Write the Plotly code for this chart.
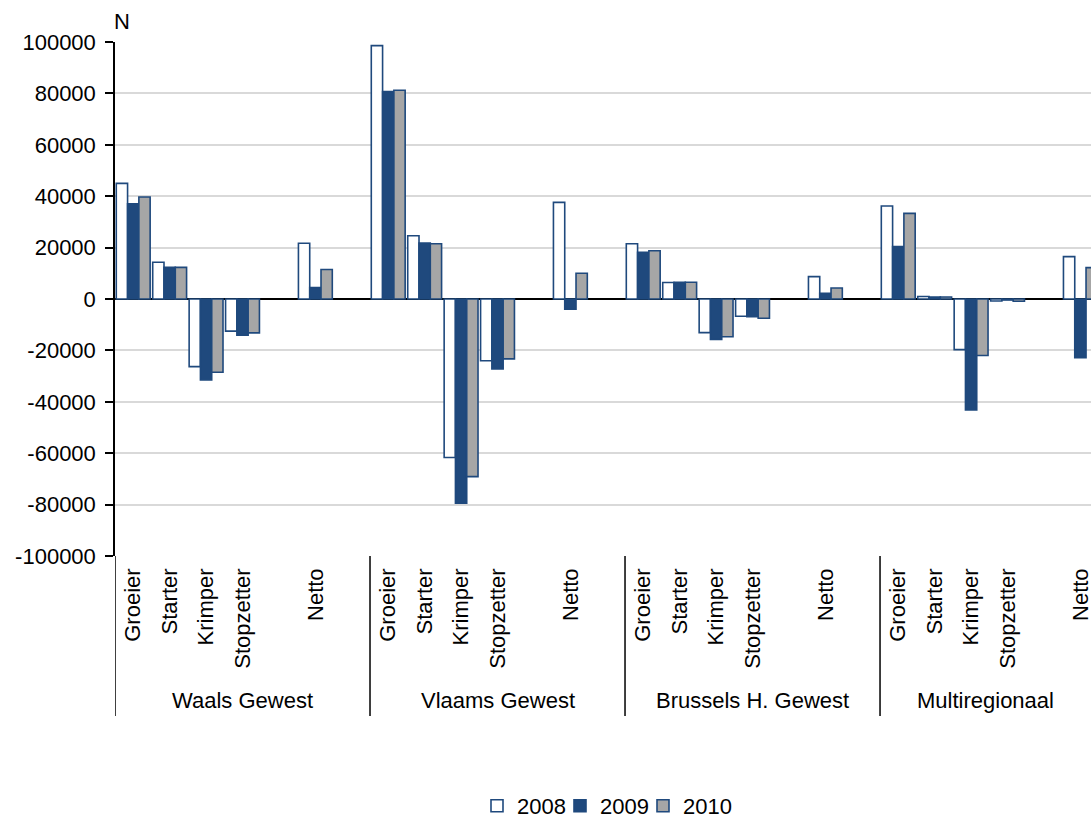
import plotly.graph_objects as go

regions = ["Waals Gewest", "Vlaams Gewest", "Brussels H. Gewest", "Multiregionaal"]
categories = ["Groeier", "Starter", "Krimper", "Stopzetter", "Netto"]
slot_layout = ["Groeier", "Starter", "Krimper", "Stopzetter", "", "Netto", ""]
years = ["2008", "2009", "2010"]

# values per region (in category order Groeier, Starter, Krimper, Stopzetter, Netto)
v2008 = [45000, 14300, -26300, -12500, 21700,
         98600, 24600, -61700, -24000, 37600,
         21500, 6400, -13100, -6700, 8700,
         36200, 1000, -19700, -800, 16500]
v2009 = [37000, 12300, -31500, -14100, 4500,
         80700, 21800, -79500, -27200, -4000,
         18200, 6500, -15700, -6900, 2200,
         20400, 800, -43200, -400, -22800]
v2010 = [39700, 12300, -28500, -13200, 11500,
         81200, 21500, -69100, -23300, 10000,
         18800, 6500, -14700, -7500, 4300,
         33300, 800, -22000, -900, 12200]

y_ticks = [-100000, -80000, -60000, -40000, -20000, 0, 20000, 40000, 60000, 80000, 100000]
y_ticktext = [str(v) for v in y_ticks]

W, H = 1091, 816
n_slots = len(slot_layout)
xpos = []
for r in range(len(regions)):
    for c in categories:
        xpos.append(r * n_slots + slot_layout.index(c))

navy = "#1F497D"
styles = {
    "2008": dict(color="#FFFFFF", line=dict(color=navy, width=1.6)),
    "2009": dict(color=navy, line=dict(color=navy, width=1.6)),
    "2010": dict(color="#A6A6A6", line=dict(color=navy, width=1.6)),
}
legend_ids = ["legend", "legend2", "legend3"]
legend_left_px = [477, 560, 643]

fig = go.Figure()
for y, vals, lid in zip(years, [v2008, v2009, v2010], legend_ids):
    fig.add_trace(go.Bar(x=xpos, y=vals, name=y, marker=styles[y], legend=lid))

tickvals = xpos
ticktext = [c for _ in regions for c in categories]

font = "Liberation Sans, Arial, sans-serif"
x_end = 976 / 36.43 - 0.5

legend_common = dict(orientation="h", xref="container", yref="container", xanchor="left",
                     y=1 - 806 / H, yanchor="middle", font=dict(size=22), itemwidth=30,
                     bgcolor="rgba(0,0,0,0)", borderwidth=0)

fig.update_layout(
    template="none",
    width=W, height=H,
    margin=dict(l=115, r=0, t=42, b=260),
    paper_bgcolor="white", plot_bgcolor="white",
    barmode="group", bargap=0.07, bargroupgap=0.0,
    font=dict(family=font, size=22, color="#000000"),
    showlegend=True,
    legend=dict(x=legend_left_px[0] / W, **legend_common),
    legend2=dict(x=legend_left_px[1] / W, **legend_common),
    legend3=dict(x=legend_left_px[2] / W, **legend_common),
    xaxis=dict(range=[-0.5, x_end], tickmode="array", tickvals=tickvals,
               ticktext=ticktext, tickangle=-90, showgrid=False, zeroline=False,
               showline=False, ticks="", automargin=False, ticklabelstandoff=7,
               ticklabeloverflow="allow", tickfont=dict(size=22)),
    yaxis=dict(range=[-100000, 100000], tickmode="array", tickvals=y_ticks,
               ticktext=y_ticktext, showgrid=True,
               gridcolor="#D9D9D9", gridwidth=1.5, zeroline=True, zerolinecolor="#000000",
               zerolinewidth=1.5, showline=True, linecolor="#000000", linewidth=1.5,
               ticks="outside", ticklen=8, tickcolor="#000000", tickwidth=1.5,
               automargin=False, ticklabelstandoff=5, tickfont=dict(size=22)),
)

plot_h = H - 42 - 260
div_bottom = (556 - 716) / plot_h
for r in range(len(regions)):
    x0 = r * n_slots - 0.5
    x1 = min(x0 + n_slots, x_end)
    fig.add_shape(type="line", xref="x", yref="paper", x0=x0, x1=x0, y0=0, y1=div_bottom,
                  line=dict(color="#000000", width=1.5))
    fig.add_annotation(xref="x", yref="paper", x=(x0 + x1) / 2,
                       y=(556 - 701) / plot_h, text=regions[r], showarrow=False,
                       xanchor="center", yanchor="middle", font=dict(size=22))

fig.add_annotation(xref="paper", yref="paper", x=(122 - 115) / 976, y=1 + (42 - 22) / plot_h,
                   text="N", showarrow=False, xanchor="center", yanchor="middle",
                   font=dict(size=22))

post = "document.body.style.margin='0';document.body.style.padding='0';"
fig.write_html("out.html", config={"displayModeBar": False, "responsive": False},
               post_script=post)
